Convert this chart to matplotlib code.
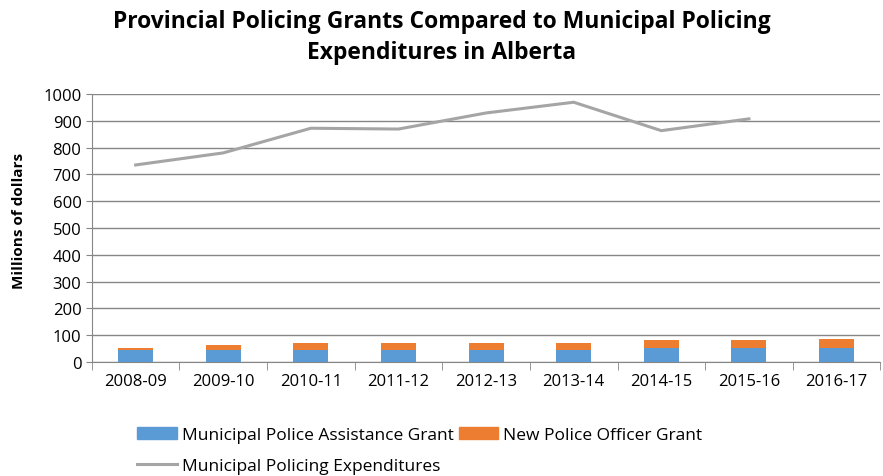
import matplotlib.pyplot as plt
from matplotlib.lines import Line2D
from matplotlib.patches import Patch
import numpy as np

years = ['2008-09', '2009-10', '2010-11', '2011-12', '2012-13',
         '2013-14', '2014-15', '2015-16', '2016-17']
assistance = [43, 43, 43, 43, 43, 43, 51, 51, 54]
new_officer = [10, 20, 29, 29, 29, 29, 30, 30, 31]
expenditures = [735, 780, 872, 869, 929, 969, 863, 907]

blue = '#5B9BD5'
orange = '#ED7D31'
gray = '#A5A5A5'

plt.rcParams['font.family'] = ['Open Sans', 'DejaVu Sans']

fig = plt.figure(figsize=(8.83, 4.77), dpi=100)
ax = fig.add_axes([0.104, 0.239, 0.893, 0.562])

x = np.arange(len(years))
ax.bar(x, assistance, width=0.4, color=blue, zorder=3)
ax.bar(x, new_officer, width=0.4, bottom=assistance, color=orange, zorder=3)
ax.plot(np.arange(len(expenditures)), expenditures, color=gray, lw=2.2, zorder=4)

ax.set_xlim(-0.5, len(years) - 0.5)
ax.set_ylim(0, 1000)
ax.set_yticks(range(0, 1001, 100))
ax.tick_params(axis='y', labelsize=12, length=4, color='#868686')
ax.set_xticks(x)
ax.set_xticklabels(years, fontsize=12)
ax.tick_params(axis='x', which='major', length=0, pad=8)
ax.set_xticks(np.arange(-0.5, len(years), 1), minor=True)
ax.tick_params(axis='x', which='minor', length=6, color='#868686')

ax.grid(axis='y', color='#868686', lw=1, zorder=0)
for s in ['top', 'right']:
    ax.spines[s].set_visible(False)
for s in ['left', 'bottom']:
    ax.spines[s].set_color('#868686')

ax.set_ylabel('Millions of dollars', fontsize=11, fontweight='bold')
ax.yaxis.set_label_coords(-0.083, 0.53)

fig.text(0.5, 0.922, 'Provincial Policing Grants Compared to Municipal Policing\nExpenditures in Alberta',
         ha='center', va='center', fontsize=16.5, fontweight='bold', linespacing=1.4)

handles = [Patch(color=blue), Line2D([], [], color=gray, lw=2.2), Patch(color=orange)]
labels = ['Municipal Police Assistance Grant', 'Municipal Policing Expenditures',
          'New Police Officer Grant']
fig.legend(handles, labels, ncol=2, loc='upper left', bbox_to_anchor=(0.138, 0.135),
           frameon=False, fontsize=12.5, handlelength=2.25, handleheight=0.7,
           columnspacing=0.3, handletextpad=0.3, labelspacing=0.85)

fig.savefig('out.png', dpi=100)
